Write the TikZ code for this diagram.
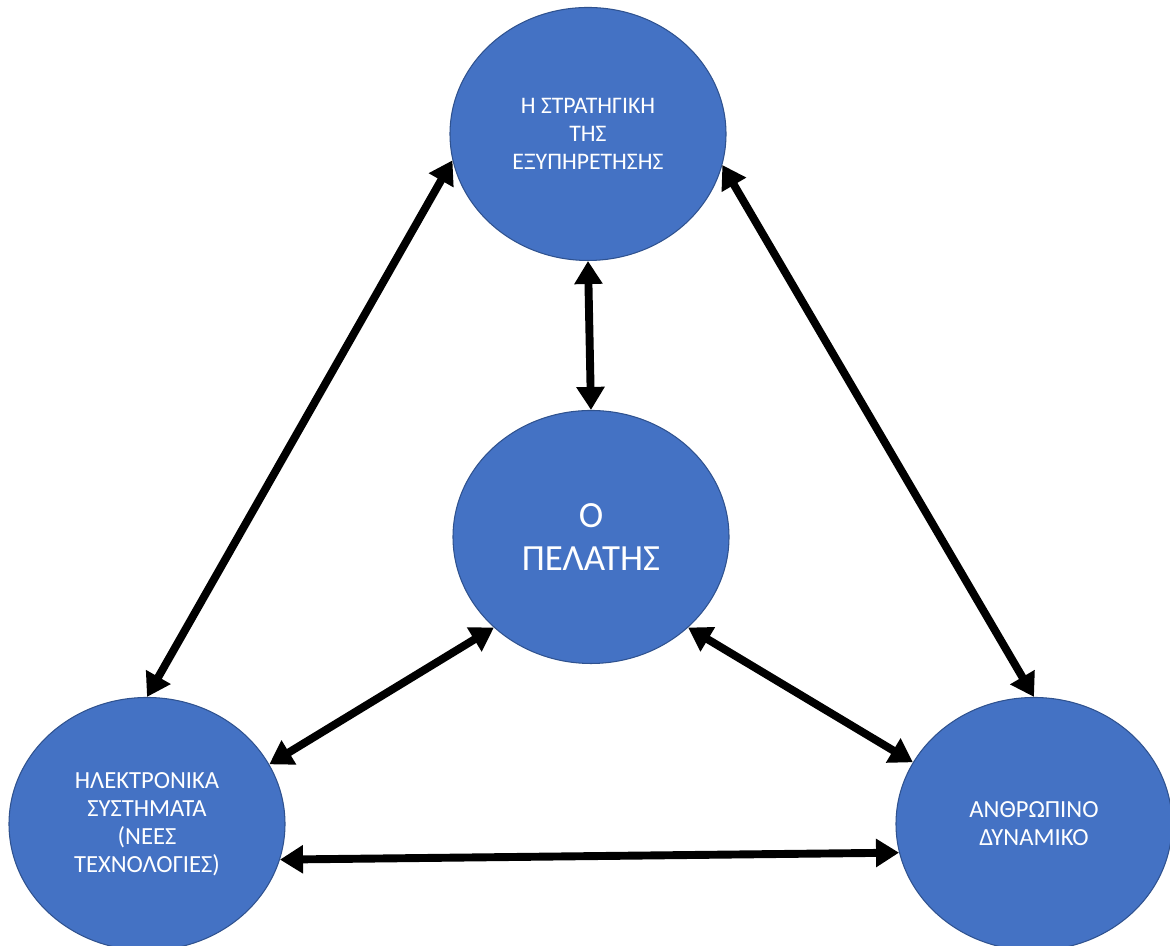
\documentclass[tikz,border=0pt]{standalone}
\usepackage{fontspec}
\setmainfont{Carlito}
\usepackage{xcolor}
\usetikzlibrary{arrows.meta}
\usetikzlibrary{shapes.geometric}
\definecolor{bubblefill}{HTML}{4472C4}
\definecolor{bubbleline}{HTML}{2F528F}
\tikzset{
	bubble/.style={ellipse, fill=bubblefill, draw=bubbleline, line width=0.6pt, text=white, align=center, inner sep=0pt, minimum width=5.52cm, minimum height=5.06cm, font=\fontsize{14}{16}\selectfont},
	link/.style={line width=4.5pt, {Triangle[length=0.46cm,width=0.54cm]}-{Triangle[length=0.46cm,width=0.54cm]}}
}

\begin{document}
\begin{tikzpicture}
				\useasboundingbox (0,0) rectangle (23.4,18.92);
				
				\node[bubble, font=\fontsize{13.5}{16}\selectfont] (strat) at (11.76,16.24) {Η ΣΤΡΑΤΗΓΙΚΗ\\ΤΗΣ\\ΕΞΥΠΗΡΕΤΗΣΗΣ};
				\node[bubble, font=\fontsize{21}{24}\selectfont] (client) at (11.82,8.18) {Ο\\ΠΕΛΑΤΗΣ};
				\node[bubble] (tech) at (2.94,2.44) {ΗΛΕΚΤΡΟΝΙΚΑ\\ΣΥΣΤΗΜΑΤΑ\\(ΝΕΕΣ\\ΤΕΧΝΟΛΟΓΙΕΣ)};
				\node[bubble] (staff) at (20.68,2.44) {ΑΝΘΡΩΠΙΝΟ\\ΔΥΝΑΜΙΚΟ};
				
				\draw[link] (strat.south) -- (client.north);
				\draw[link] (strat.191) -- (tech.north);
				\draw[link] (strat.347) -- (staff.north);
				\draw[link] (client.223) -- (tech.26);
				\draw[link] (client.317) -- (staff.153);
				\draw[link] (tech.345) -- (staff.192);
			\end{tikzpicture}
\end{document}
